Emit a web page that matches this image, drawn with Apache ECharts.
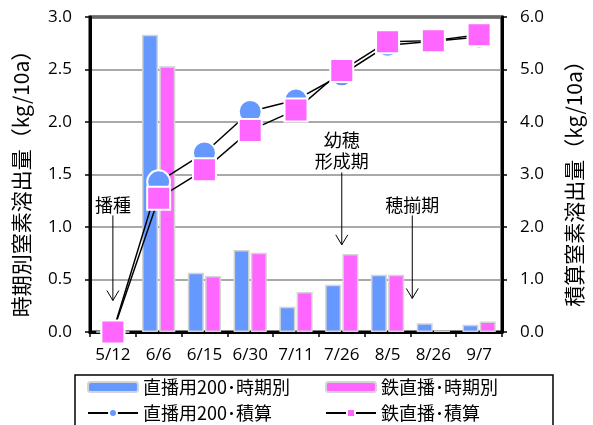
<!DOCTYPE html>
<html><head><meta charset="utf-8">
<script src="https://cdn.jsdelivr.net/npm/echarts@6/dist/echarts.min.js"></script>
<style>html,body{margin:0;padding:0;background:#fff}#c{width:593px;height:425px}</style>
</head><body><div id="c"></div>
<script>
// Sampling dates
const categories = ['5/12', '6/6', '6/15', '6/30', '7/11', '7/26', '8/5', '8/26', '9/7'];
// Nitrogen released per period (kg/10a)
const periodDirect200 = [0, 2.83, 0.565, 0.78, 0.24, 0.45, 0.546, 0.083, 0.07];
const periodIronCoat = [0, 2.53, 0.533, 0.755, 0.38, 0.743, 0.546, 0.015, 0.10];
// Cumulative nitrogen released (kg/10a)
const cumDirect200 = [0, 2.86, 3.41, 4.20, 4.42, 4.90, 5.46, 5.54, 5.62];
const cumIronCoat = [0, 2.55, 3.09, 3.84, 4.23, 4.98, 5.53, 5.55, 5.66];
// Series names
const names = ['直播用200･時期別', '鉄直播･時期別', '直播用200･積算', '鉄直播･積算'];

const BLUE = '#6699FF', PINK = '#FF66FF';
const numFont = 'Open Sans';
const jpFont = 'Noto Sans CJK JP';

const chart = echarts.init(document.getElementById('c'), null, { renderer: 'canvas' });

const barStyle = (c) => ({ color: c, borderColor: '#d4d4d4', borderWidth: 1.5 });
const legendBase = {
  orient: 'horizontal', padding: 0, itemWidth: 50, itemHeight: 10, itemGap: 0,
  textStyle: { fontFamily: jpFont, fontSize: 18, color: '#000' },
  selectedMode: false
};

chart.setOption({
  animation: false,
  grid: {
    left: 90, right: 84, top: 17, bottom: 93,
    show: true, borderColor: '#000', borderWidth: 3, backgroundColor: 'transparent'
  },
  legend: [
    Object.assign({ data: [names[0]], left: 87, top: 378 }, legendBase),
    Object.assign({ data: [names[1]], left: 325, top: 378 }, legendBase),
    Object.assign({ data: [names[2]], left: 87, top: 404 }, legendBase),
    Object.assign({ data: [names[3]], left: 325, top: 404 }, legendBase)
  ],
  xAxis: {
    type: 'category', data: categories, boundaryGap: true,
    axisLine: { lineStyle: { color: '#000', width: 3 } },
    axisTick: { show: true, length: 5, lineStyle: { color: '#000', width: 1.5 } },
    axisLabel: { fontFamily: numFont, fontSize: 17, color: '#000', margin: 15, interval: 0 }
  },
  yAxis: [
    {
      type: 'value', min: 0, max: 3, interval: 0.5, position: 'left',
      name: '時期別窒素溶出量（kg/10a）', nameLocation: 'middle', nameGap: 58,
      nameTextStyle: { fontFamily: jpFont, fontSize: 21, color: '#000', padding: [0, 8, 0, 0] },
      axisLine: { show: true, lineStyle: { color: '#000', width: 3 } },
      axisTick: { show: true, length: 5, lineStyle: { color: '#000', width: 1.5 } },
      axisLabel: { fontFamily: numFont, fontSize: 17, color: '#000', margin: 18,
        formatter: v => v.toFixed(1) },
      splitLine: { show: true, lineStyle: { color: '#8c8c8c', width: 1.5 } }
    },
    {
      type: 'value', min: 0, max: 6, interval: 1, position: 'right',
      name: '積算窒素溶出量（kg/10a）', nameLocation: 'middle', nameGap: 62,
      nameTextStyle: { fontFamily: jpFont, fontSize: 21, color: '#000', padding: [0, 8, 0, 0] },
      axisLine: { show: true, lineStyle: { color: '#000', width: 3 } },
      axisTick: { show: true, length: 5, lineStyle: { color: '#000', width: 1.5 } },
      axisLabel: { fontFamily: numFont, fontSize: 17, color: '#000', margin: 18,
        formatter: v => v.toFixed(1) },
      splitLine: { show: false }
    }
  ],
  series: [
    { name: names[0], type: 'bar', data: periodDirect200, yAxisIndex: 0,
      barWidth: 16, barGap: '8%', itemStyle: barStyle(BLUE) },
    { name: names[1], type: 'bar', data: periodIronCoat, yAxisIndex: 0,
      barWidth: 16, barGap: '8%', itemStyle: barStyle(PINK) },
    { name: names[2], type: 'line', data: cumDirect200, yAxisIndex: 1,
      symbol: 'circle', symbolSize: 23, z: 3,
      lineStyle: { color: '#000', width: 1.5 },
      itemStyle: { color: BLUE, borderColor: '#fff', borderWidth: 2 } },
    { name: names[3], type: 'line', data: cumIronCoat, yAxisIndex: 1,
      symbol: 'rect', symbolSize: 23, z: 4,
      lineStyle: { color: '#000', width: 1.5 },
      itemStyle: { color: PINK, borderColor: '#fff', borderWidth: 2 } }
  ]
});

// Growth-stage annotations (category index, left-axis values)
const stages = [
  { lines: ['播種'], at: 0, textY: [1.21], from: 1.11, to: 0.30 },
  { lines: ['幼穂', '形成期'], at: 5, textY: [1.83, 1.63], from: 1.52, to: 0.83 },
  { lines: ['穂揃期'], at: 6.54, textY: [1.21], from: 1.11, to: 0.32 }
];

function toPx(idx, val) {
  const i0 = Math.floor(idx), i1 = Math.min(i0 + 1, categories.length - 1);
  const p0 = chart.convertToPixel({ xAxisIndex: 0, yAxisIndex: 0 }, [i0, val]);
  const p1 = chart.convertToPixel({ xAxisIndex: 0, yAxisIndex: 0 }, [i1, val]);
  const t = idx - i0;
  return [p0[0] + (p1[0] - p0[0]) * t, p0[1]];
}

const graphics = [
  // legend frame
  { type: 'rect', shape: { x: 75, y: 375, width: 478, height: 60 }, z: -1,
    style: { fill: '#fff', stroke: '#000', lineWidth: 1.5 } }
];
stages.forEach(s => {
  s.lines.forEach((txt, k) => {
    const p = toPx(s.at, s.textY[k]);
    graphics.push({ type: 'text', x: p[0], y: p[1], z: 10,
      style: { text: txt, fontFamily: jpFont, fontSize: 18, fill: '#000',
        textAlign: 'center', textVerticalAlign: 'middle' } });
  });
  const a = toPx(s.at, s.from), b = toPx(s.at, s.to);
  graphics.push({ type: 'line', z: 10,
    shape: { x1: a[0], y1: a[1], x2: b[0], y2: b[1] },
    style: { stroke: '#000', lineWidth: 1 } });
  graphics.push({ type: 'polyline', z: 10,
    shape: { points: [[b[0] - 6, b[1] - 10], [b[0], b[1]], [b[0] + 6, b[1] - 10]] },
    style: { stroke: '#000', lineWidth: 1, fill: null } });
});
chart.setOption({ graphic: graphics });
</script>
</body></html>
